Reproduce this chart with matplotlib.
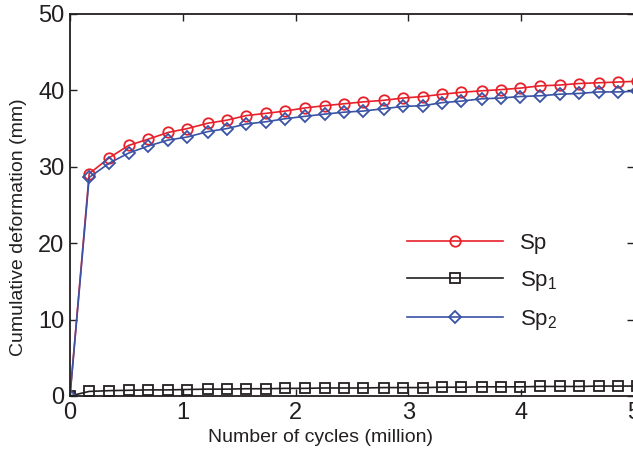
import matplotlib
matplotlib.use("Agg")
import matplotlib.pyplot as plt

plt.rcParams['font.family'] = ['Liberation Sans', 'DejaVu Sans']
plt.rcParams['mathtext.fontset'] = 'custom'
plt.rcParams['mathtext.rm'] = 'Liberation Sans'
plt.rcParams['mathtext.it'] = 'Liberation Sans'

cycles = [0, 0.17, 0.35, 0.52, 0.69, 0.87, 1.04, 1.22, 1.39, 1.56, 1.74, 1.91,
          2.08, 2.26, 2.43, 2.60, 2.78, 2.95, 3.13, 3.30, 3.47, 3.65, 3.82, 3.99,
          4.17, 4.34, 4.51, 4.69, 4.86, 5.03]
sp = [0, 29.1, 31.2, 32.8, 33.6, 34.5, 35.0, 35.7, 36.1, 36.7, 37.0, 37.3,
      37.7, 38.0, 38.25, 38.5, 38.7, 39.0, 39.2, 39.5, 39.75, 39.95, 40.1, 40.3,
      40.6, 40.7, 40.9, 41.0, 41.1, 41.2]
sp1 = [0, 0.6, 0.7, 0.75, 0.8, 0.8, 0.85, 0.9, 0.9, 0.95, 0.95, 1.0,
       1.0, 1.05, 1.05, 1.05, 1.1, 1.1, 1.1, 1.15, 1.15, 1.2, 1.2, 1.2,
       1.25, 1.25, 1.25, 1.3, 1.3, 1.3]
sp2 = [0, 28.6, 30.5, 31.8, 32.7, 33.5, 33.9, 34.6, 35.0, 35.6, 35.9, 36.3,
       36.6, 36.9, 37.15, 37.3, 37.6, 37.9, 38.0, 38.4, 38.6, 38.9, 39.0, 39.2,
       39.3, 39.5, 39.6, 39.8, 39.8, 39.9]
labels = ['Sp', 'Sp$_1$', 'Sp$_2$']
xticks = [0, 1, 2, 3, 4, 5]
yticks = [0, 10, 20, 30, 40, 50]

W, H = 633, 454
fig = plt.figure(figsize=(W / 100, H / 100), dpi=100)
ax = fig.add_axes([70 / W, 1 - 396 / H, 564 / W, 382 / H])

red = '#E8202A'
black = '#231F20'
blue = '#3A53A4'
ax.plot(cycles, sp, color=red, lw=1.2, marker='o', ms=7.5, mfc='none', mew=1.3, label=labels[0])
ax.plot(cycles, sp1, color=black, lw=1.2, marker='s', ms=6.5, mfc='none', mew=1.3, label=labels[1])
ax.plot(cycles, sp2, color=blue, lw=1.2, marker='D', ms=6.0, mfc='none', mew=1.3, label=labels[2])

ax.set_xlim(0, 5)
ax.set_ylim(0, 50)
ax.set_xticks(xticks)
ax.set_yticks(yticks)
ax.tick_params(direction='in', length=5, width=1, top=True, right=True, labelsize=17, pad=4,
               colors=black)
for s in ax.spines.values():
    s.set_linewidth(1.3)
    s.set_color(black)
ax.set_xlabel('Number of cycles (million)', fontsize=14, color=black)
ax.set_ylabel('Cumulative deformation (mm)', fontsize=14, color=black)
ax.xaxis.set_label_coords((320 - 70) / 564, -(429 - 396) / 382)
ax.yaxis.set_label_coords(-(70 - 27) / 564, (396 - 227) / 382)

leg = ax.legend(loc='center left', bbox_to_anchor=(396 / W, 1 - 282.5 / H),
                bbox_transform=fig.transFigure, frameon=False, fontsize=16,
                handlelength=4.3, handletextpad=0.8, labelspacing=0.68, borderpad=0)
for t in leg.get_texts():
    t.set_color(black)

fig.savefig('out.png', dpi=100)
